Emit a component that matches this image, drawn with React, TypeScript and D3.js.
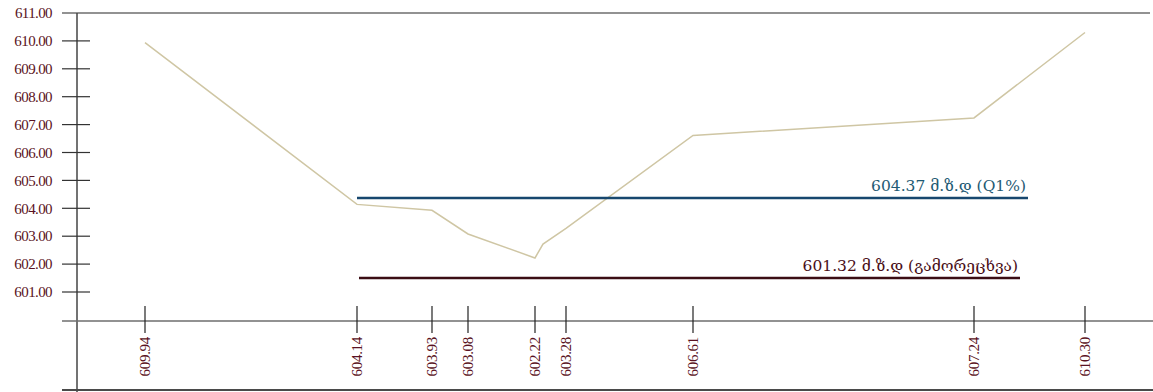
import React from "react";
import * as d3 from "d3";

// Profile: distance along section (m) and bed elevation (m)
const distances = [68, 280, 355, 391, 458, 466, 489, 616, 897, 1008];
const elevations = [609.94, 604.14, 603.93, 603.08, 602.22, 602.72, 603.28, 606.61, 607.24, 610.3];

// Labelled stations on the x axis
const stationDistances = [68, 280, 355, 391, 458, 489, 616, 897, 1008];
const stationLabels = ["609.94", "604.14", "603.93", "603.08", "602.22", "603.28", "606.61", "607.24", "610.30"];

// Y-axis ticks
const yTicks = [611, 610, 609, 608, 607, 606, 605, 604, 603, 602, 601];

// Water levels
const levelNames = ["604.37 მ.ზ.დ (Q1%)", "601.32 მ.ზ.დ (გამორეცხვა)"];
const levelValues = [604.37, 601.5];
const levelStart = [280, 282];
const levelEnd = [951, 943];
const levelColors = ["#17476e", "#3b0d14"];
const levelTextColors = ["#1f5b74", "#4a0f18"];

export default function App() {
  const W = 1153, H = 392;
  const x = d3.scaleLinear().domain([0, 1076]).range([77, 1153]);
  const y = d3.scaleLinear().domain([611, 601]).range([13, 292]);
  const pts = distances.map((d, i) => [d, elevations[i]] as [number, number]);
  const line = d3.line<[number, number]>().x(d => x(d[0])).y(d => y(d[1]));
  const serif = "'Liberation Serif', 'Times New Roman', serif";
  return (
    <svg width={W} height={H} style={{ position: "absolute", left: 0, top: 0, background: "#fff" }}>
      {/* top line */}
      <line x1={62} x2={1150} y1={13} y2={13} stroke="#6e6e6e" strokeWidth={1.5} />
      {/* y axis */}
      <line x1={77} x2={77} y1={13} y2={392} stroke="#444" strokeWidth={1.5} />
      {yTicks.map(t => (
        <g key={t}>
          {t !== 611 && <line x1={62} x2={90} y1={y(t)} y2={y(t)} stroke="#333" strokeWidth={1.2} />}
          <text x={52} y={y(t)} dy="0.35em" textAnchor="end" fontFamily={serif} fontSize={15} letterSpacing={-0.6} fill="#5a1222">
            {t.toFixed(2)}
          </text>
        </g>
      ))}
      {/* baseline & bottom */}
      <line x1={62} x2={1153} y1={321} y2={321} stroke="#6e6e6e" strokeWidth={1.5} />
      <line x1={62} x2={1153} y1={390} y2={390} stroke="#4a4a4a" strokeWidth={2} />
      {/* station ticks & labels */}
      {stationDistances.map((d, i) => (
        <g key={i}>
          <line x1={x(d)} x2={x(d)} y1={306} y2={333} stroke="#222" strokeWidth={1.2} />
          <text
            transform={`translate(${x(d) + 5},337) rotate(-90)`}
            textAnchor="end"
            fontFamily={serif}
            fontSize={15}
            letterSpacing={-0.3}
            fill="#5a1222"
          >
            {stationLabels[i]}
          </text>
        </g>
      ))}
      {/* profile */}
      <path d={line(pts) || ""} fill="none" stroke="#cfc6a4" strokeWidth={1.5} />
      {/* levels */}
      {levelValues.map((v, i) => (
        <g key={i}>
          <line x1={x(levelStart[i])} x2={x(levelEnd[i])} y1={y(v)} y2={y(v)} stroke={levelColors[i]} strokeWidth={2.5} />
          <text
            x={x(levelEnd[i]) - 2}
            y={y(v) - 7}
            textAnchor="end"
            fontFamily="'DejaVu Serif', serif"
            fontSize={15.5}
            fill={levelTextColors[i]}
          >
            {levelNames[i]}
          </text>
        </g>
      ))}
    </svg>
  );
}
